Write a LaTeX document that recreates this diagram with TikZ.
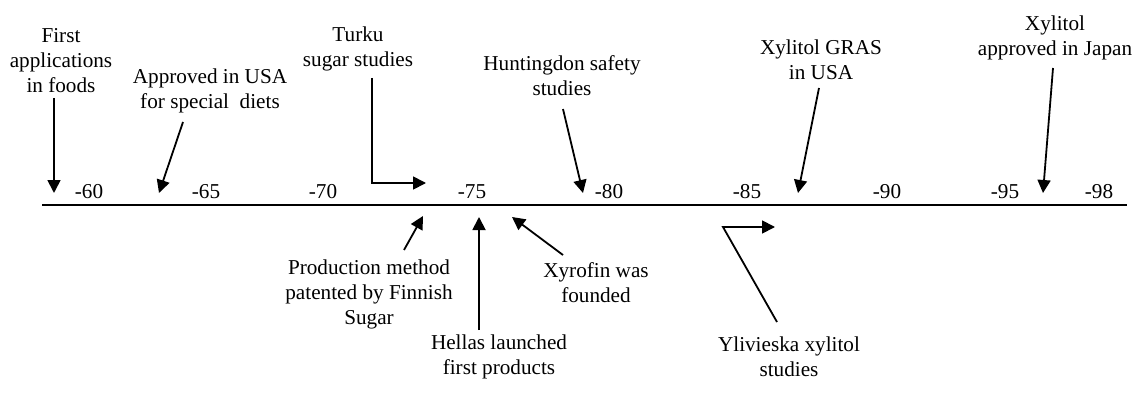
\documentclass[tikz,border=0pt]{standalone}
\usepackage{fontspec}
\setmainfont{Liberation Serif}
\usetikzlibrary{arrows.meta}
\tikzset{
  lbl/.style={align=center, inner sep=0pt, font=\fontsize{21.2}{25}\selectfont},
  yr/.style={anchor=base, inner sep=0pt, font=\fontsize{21.2}{25}\selectfont},
  axisline/.style={line width=2.4pt},
  arr/.style={line width=1.8pt, -{Triangle[length=13pt,width=13pt]}},
}
\begin{document}
\begin{tikzpicture}[x=1pt,y=-1pt]
\useasboundingbox (0,0) rectangle (1132,401);
% axis
\coordinate (axL) at (42,205);
\coordinate (axR) at (1127,205);
\draw[axisline] (axL) -- (axR);
% year labels
\node[yr] (y60) at (89,198) {-60};
\node[yr] (y65) at (206,198) {-65};
\node[yr] (y70) at (323,198) {-70};
\node[yr] (y75) at (472,198) {-75};
\node[yr] (y80) at (609,198) {-80};
\node[yr] (y85) at (747,198) {-85};
\node[yr] (y90) at (887,198) {-90};
\node[yr] (y95) at (1005,198) {-95};
\node[yr] (y98) at (1099,198) {-98};
% labels above
\node[lbl] (nFirst) at (61,61) {First\\applications\\in foods};
\node[lbl] (nUSA) at (210,91) {Approved in USA\\for special\ \ diets};
\node[lbl] (nTurku) at (358,49) {Turku\\sugar studies};
\node[lbl] (nHunt) at (562,76) {Huntingdon safety\\studies};
\node[lbl] (nGRAS) at (821,60) {Xylitol GRAS\\in USA};
\node[lbl] (nJapan) at (1055,38) {Xylitol\\approved in Japan};
% labels below
\node[lbl] (nProd) at (369,294) {Production method\\patented by Finnish\\Sugar};
\node[lbl] (nHellas) at (499,357) {Hellas launched\\first products};
\node[lbl] (nXyro) at (596,283) {Xyrofin was\\founded};
\node[lbl] (nYli) at (789,357) {Ylivieska xylitol\\studies};
% arrow points
\coordinate (a1s) at (54,98);   \coordinate (a1e) at (54,193);
\coordinate (a2s) at (183,122); \coordinate (a2e) at (159,193);
\coordinate (t1) at (372,78);   \coordinate (t2) at (372,183); \coordinate (t3) at (426,183);
\coordinate (h1) at (563,109);  \coordinate (h2) at (583,193);
\coordinate (g1) at (819,88);   \coordinate (g2) at (798,193);
\coordinate (j1) at (1053,68);  \coordinate (j2) at (1043,193);
\coordinate (p1) at (404,250);  \coordinate (p2) at (423,216);
\coordinate (l1) at (479,330);  \coordinate (l2) at (479,217);
\coordinate (x1) at (563,255);  \coordinate (x2) at (512,217);
\coordinate (v1) at (777,322);  \coordinate (v2) at (723,227); \coordinate (v3) at (775,227);
% arrows
\draw[arr] (a1s) -- (a1e);
\draw[arr] (a2s) -- (a2e);
\draw[arr] (t1) -- (t2) -- (t3);
\draw[arr] (h1) -- (h2);
\draw[arr] (g1) -- (g2);
\draw[arr] (j1) -- (j2);
\draw[arr] (p1) -- (p2);
\draw[arr] (l1) -- (l2);
\draw[arr] (x1) -- (x2);
\draw[arr] (v1) -- (v2) -- (v3);
\end{tikzpicture}
\end{document}
